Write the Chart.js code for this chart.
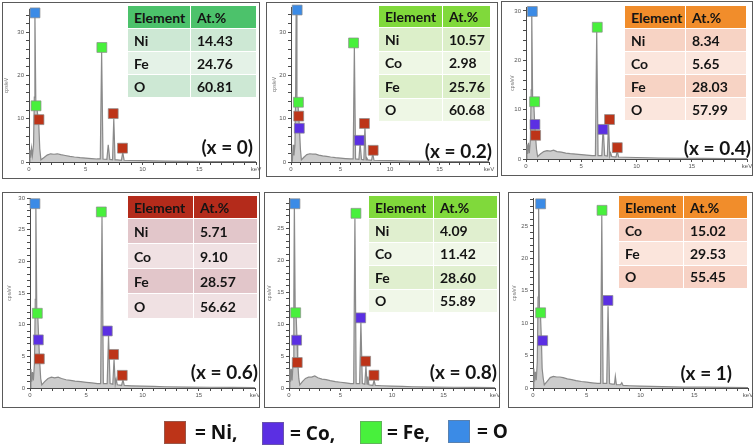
<!DOCTYPE html>
<html>
<head>
<meta charset="utf-8">
<script src="https://cdn.jsdelivr.net/npm/chart.js@4.4.1/dist/chart.umd.min.js"></script>
<style>
      body { margin: 0; width: 756px; height: 448px; background: #fff; position: relative; overflow: hidden; font-family: Lato, "Open Sans", sans-serif; }
      .panel { position: absolute; border: 1px solid #5a5a5a; box-sizing: border-box; }
      canvas { position: absolute; }
      table.at { position: absolute; border-collapse: collapse; table-layout: fixed; font-weight: bold; font-size: 14px; color: #141414; }
      table.at td { box-sizing: border-box; border: 1px solid #fff; padding: 0 0 0 6px; white-space: nowrap; overflow: hidden; }
      .xlab { position: absolute; font-weight: bold; font-size: 19px; line-height: 20px; color: #141414; white-space: nowrap; }
      .key { position: absolute; width: 22px; height: 23px; box-sizing: border-box; border: 1px solid rgba(120,120,120,0.5); }
      .keytxt { position: absolute; font: bold 19px "Open Sans"; line-height: 24px; color: #111; white-space: nowrap; }
</style>
</head>
<body>
<script>
/* общая сетка энергий (keV) для всех спектров */
const keV = [0, 0.08, 0.15, 0.22, 0.30, 0.40, 0.47, 0.52, 0.60, 0.70, 0.78, 0.85, 0.95, 1.05, 1.3,
      1.6, 1.9, 2.2, 2.5, 2.8, 3.2, 3.6, 4.0, 4.5, 5.0, 5.5, 6.0, 6.28, 6.40, 6.52, 6.86, 6.98, 7.12,
      7.36, 7.47, 7.58, 7.66, 7.76, 8.14, 8.26, 8.38, 9, 10, 11, 12, 14, 16, 18, 20];

/* интенсивность, cps/eV, для каждого состава */
const cpsX0 = [0, 2.8, 1.0, 3.2, 1.5, 4, 15, 35, 14, 12.5, 10.5, 9.5, 3, 0.5, 1.0, 1.6, 1.9, 1.8, 1.9, 1.7,
      1.5, 1.3, 1.15, 1.0, 0.9, 0.8, 0.7, 0.7, 25.5, 0.7, 0.6, 4.0, 0.6, 0.5, 10.0, 0.5, 0.5, 0.5, 0.4, 2.3,
      0.4, 0.35, 0.3, 0.25, 0.2, 0.15, 0.12, 0.1, 0.08];
const cpsX02 = [0, 1.5, 0.8, 4.0, 1.5, 4, 16, 35.8, 15, 13.5, 10.5, 8, 3, 0.5, 1.1, 1.7, 1.9, 1.8, 1.8, 1.6,
      1.4, 1.3, 1.15, 1.0, 0.9, 0.8, 0.7, 0.7, 26.8, 0.7, 0.6, 4.3, 0.6, 0.5, 8.0, 0.5, 0.9, 0.5, 0.4, 2.0,
      0.4, 0.35, 0.3, 0.25, 0.2, 0.15, 0.12, 0.1, 0.08];
const cpsX04 = [0, 3.0, 1.0, 3.3, 1.2, 4, 14, 30.5, 12, 11.5, 7.5, 5, 2, 0.5, 1.0, 1.5, 1.7, 1.6, 1.8, 1.5,
      1.4, 1.2, 1.1, 1.0, 0.9, 0.8, 0.7, 0.7, 26.0, 0.7, 0.7, 6.5, 0.7, 0.6, 7.3, 0.6, 1.2, 0.5, 0.4, 1.6,
      0.4, 0.35, 0.3, 0.25, 0.2, 0.15, 0.12, 0.1, 0.08];
const cpsX06 = [0, 3.0, 1.0, 2.5, 1.2, 4, 14, 29.5, 12.5, 11, 7.5, 4.5, 1.5, 0.5, 1.0, 1.5, 1.7, 1.6, 1.7, 1.5,
      1.3, 1.2, 1.1, 1.0, 0.9, 0.8, 0.7, 0.7, 27.0, 0.7, 0.7, 8.3, 0.7, 0.6, 4.5, 0.6, 1.4, 0.5, 0.4, 1.3,
      0.4, 0.35, 0.3, 0.25, 0.2, 0.15, 0.12, 0.1, 0.08];
const cpsX08 = [0, 3.0, 1.0, 3.0, 1.2, 4, 14, 29.3, 12.5, 11, 7.5, 4, 1.5, 0.5, 1.0, 1.5, 1.7, 1.7, 1.9, 1.6,
      1.4, 1.3, 1.15, 1.0, 0.9, 0.8, 0.7, 0.7, 26.6, 0.7, 0.7, 10.3, 0.7, 0.6, 3.5, 0.6, 1.8, 0.5, 0.4, 1.2,
      0.4, 0.35, 0.3, 0.25, 0.2, 0.15, 0.12, 0.1, 0.08];
const cpsX1 = [0, 3.0, 1.0, 2.5, 1.2, 4, 14, 28.8, 12, 11, 7.5, 3, 1.5, 0.5, 1.0, 1.6, 1.8, 1.7, 1.7, 1.6,
      1.4, 1.3, 1.15, 1.0, 0.9, 0.8, 0.7, 0.7, 26.6, 0.7, 0.7, 12.6, 0.7, 0.6, 0.6, 0.6, 1.8, 0.5, 0.5, 0.8,
      0.4, 0.35, 0.3, 0.25, 0.2, 0.15, 0.12, 0.1, 0.08];
const spectra = [cpsX0, cpsX02, cpsX04, cpsX06, cpsX08, cpsX1];

/* метки пиков [keV, cps/eV] по панелям */
const markNi = [[[0.88, 9.8], [7.42, 11.2], [8.24, 3.2]], [[0.78, 10.6], [7.42, 8.9], [8.3, 2.7]],
      [[0.87, 4.8], [7.56, 8.0], [8.26, 2.3]], [[0.83, 4.6], [7.43, 5.3], [8.2, 2.0]],
      [[0.8, 4.0], [7.44, 4.2], [8.25, 2.0]], []];
const markCo = [[], [[0.84, 7.8], [6.9, 5.0]], [[0.81, 7.0], [6.96, 6.0]], [[0.74, 7.6], [6.87, 9.0]],
      [[0.74, 7.5], [6.96, 11.0]], [[0.9, 7.3], [6.97, 13.5]]];
const markFe = [[[0.62, 13.0], [6.42, 26.5]], [[0.75, 13.8], [6.32, 27.5]], [[0.78, 11.6], [6.45, 26.7]],
      [[0.65, 11.8], [6.34, 27.8]], [[0.65, 11.8], [6.5, 27.4]], [[0.71, 11.6], [6.42, 27.4]]];
const markO = [[[0.53, 34.5]], [[0.62, 35.1]], [[0.57, 29.9]], [[0.44, 29.1]], [[0.58, 28.9]], [[0.71, 28.4]]];

/* таблицы состава */
const tableEl = [['Ni', 'Fe', 'O'], ['Ni', 'Co', 'Fe', 'O'], ['Ni', 'Co', 'Fe', 'O'],
      ['Ni', 'Co', 'Fe', 'O'], ['Ni', 'Co', 'Fe', 'O'], ['Co', 'Fe', 'O']];
const atPct = [['14.43', '24.76', '60.81'], ['10.57', '2.98', '25.76', '60.68'], ['8.34', '5.65', '28.03', '57.99'],
      ['5.71', '9.10', '28.57', '56.62'], ['4.09', '11.42', '28.60', '55.89'], ['15.02', '29.53', '55.45']];
const xLabels = ['(x = 0)', '(x = 0.2)', '(x = 0.4)', '(x = 0.6)', '(x = 0.8)', '(x = 1)'];

/* шкалы */
const yMax = [35.4, 35.8, 30.8, 30, 29.8, 29.3];
const yStep = [2, 2, 2, 1, 1, 1];
const yLabelStep = [10, 10, 10, 5, 5, 5];
const xTickLabels = { 0: '0', 5: '5', 10: '10', 15: '15', 20: 'keV' };

/* геометрия панелей (px) */
const boxes = [
      { f: [2, 2, 258, 177], x0: 29, x1: 256, y0: 7, y1: 162, yw: 25, t: [127, 5, 130, 63, 23, 23], lr: 253, lc: 147 },
      { f: [266, 2, 232, 175], x0: 291, x1: 489, y0: 5, y1: 162, yw: 19, t: [378, 5, 113, 64, 22, 23.5], lr: 492, lc: 151 },
      { f: [501, 1, 252, 175], x0: 526, x1: 747, y0: 5, y1: 159, yw: 16, t: [624, 5, 123, 61, 23, 23], lr: 751, lc: 148 },
      { f: [2, 192, 258, 216], x0: 30, x1: 255, y0: 196, y1: 388, yw: 23, t: [127, 195, 131, 66, 23, 25], lr: 258, lc: 372 },
      { f: [264, 192, 236, 216], x0: 289, x1: 495, y0: 196, y1: 388, yw: 22, t: [368, 195, 130, 65, 23, 23.5], lr: 497, lc: 372 },
      { f: [508, 192, 245, 216], x0: 533, x1: 748, y0: 196, y1: 388, yw: 21, t: [618, 195, 130, 65, 23, 23.3], lr: 732, lc: 373 }
];
const headColors = ['#4cc26b', '#80d93b', '#f18d2b', '#b42b1b', '#80d93b', '#f18d2b'];
const rowColors = [['#cde8d4', '#e4f2e7'], ['#dcefc9', '#eef7e5'], ['#f7d3c4', '#fbe6dd'],
      ['#e2c6ca', '#f0e1e3'], ['#e0efcf', '#f0f7e8'], ['#f7d2c5', '#fbe5dc']];
const elColors = { Ni: '#bd3418', Co: '#5b2fe3', Fe: '#48f03c', O: '#3b8be6' };

function el(tag, cls, css) {
      const n = document.createElement(tag);
      if (cls) n.className = cls;
      Object.assign(n.style, css || {});
      document.body.appendChild(n);
      return n;
}

function markSet(list, color) {
      return {
            data: list.map(p => ({ x: p[0], y: p[1] })),
            pointStyle: 'rect', pointRadius: 7,
            backgroundColor: color, borderColor: 'rgba(140,140,140,0.7)', borderWidth: 1,
            clip: false, order: 0
      };
}

function makePanel(i) {
      const b = boxes[i];
      el('div', 'panel', { left: b.f[0] + 'px', top: b.f[1] + 'px', width: b.f[2] + 'px', height: b.f[3] + 'px' });

      const padT = 6, padR = 10, xh = 18;
      const cv = el('canvas', null, { left: (b.x0 - b.yw) + 'px', top: (b.y0 - padT) + 'px' });
      cv.width = b.x1 - b.x0 + b.yw + padR;
      cv.height = b.y1 - b.y0 + padT + xh;
      cv.style.width = cv.width + 'px';
      cv.style.height = cv.height + 'px';

      const axisLine = { display: true, color: '#4a4a4a', width: 1 };
      const tickGrid = { display: true, drawOnChartArea: false, drawTicks: true, tickLength: 3, color: '#4a4a4a', lineWidth: 1 };
      const tickFont = { size: 6, family: 'Liberation Sans' };

      new Chart(cv, {
            type: 'scatter',
            data: {
                  datasets: [
                        markSet(markO[i], elColors.O),
                        markSet(markFe[i], elColors.Fe),
                        markSet(markCo[i], elColors.Co),
                        markSet(markNi[i], elColors.Ni),
                        {
                              data: keV.map((e, k) => ({ x: e, y: spectra[i][k] })),
                              showLine: true, fill: 'origin', tension: 0,
                              borderColor: '#8a8a8a', backgroundColor: '#cccccc', borderWidth: 1.2,
                              pointRadius: 0, order: 10
                        }
                  ]
            },
            options: {
                  responsive: false,
                  animation: false,
                  events: [],
                  layout: { padding: { top: padT, right: padR, left: 0, bottom: 0 } },
                  plugins: { legend: { display: false }, tooltip: { enabled: false } },
                  scales: {
                        x: {
                              type: 'linear', min: 0, max: 20,
                              afterFit: s => { s.height = xh; },
                              border: axisLine, grid: tickGrid,
                              ticks: {
                                    stepSize: 1, autoSkip: false, maxRotation: 0, padding: 1,
                                    font: tickFont, color: '#555',
                                    callback: v => (v in xTickLabels ? xTickLabels[v] : '')
                              }
                        },
                        y: {
                              type: 'linear', min: 0, max: yMax[i],
                              afterFit: s => { s.width = b.yw; },
                              border: axisLine, grid: tickGrid,
                              ticks: {
                                    stepSize: yStep[i], includeBounds: false, autoSkip: false, padding: 2,
                                    font: tickFont, color: '#555',
                                    callback: v => (v % yLabelStep[i] === 0 ? String(v) : '')
                              },
                              title: { display: true, text: 'cps/eV', font: { size: 5, family: 'Liberation Sans' }, color: '#777', padding: 0 }
                        }
                  }
            }
      });

      // таблица Element / At.%
      const [tl, tt, tw, c1, hh, rh] = b.t;
      const tb = el('table', 'at', { left: tl + 'px', top: tt + 'px', width: tw + 'px' });
      const head = tb.insertRow();
      head.style.height = hh + 'px';
      head.style.background = headColors[i];
      const h1 = head.insertCell(); h1.textContent = 'Element'; h1.style.width = c1 + 'px';
      const h2 = head.insertCell(); h2.textContent = 'At.%';
      tableEl[i].forEach((name, r) => {
            const row = tb.insertRow();
            row.style.height = rh + 'px';
            row.style.background = rowColors[i][r % 2];
            row.insertCell().textContent = name;
            row.insertCell().textContent = atPct[i][r];
      });

      const lab = el('div', 'xlab', { right: (756 - b.lr) + 'px', top: (b.lc - 10) + 'px' });
      lab.textContent = xLabels[i];
}

for (let i = 0; i < boxes.length; i++) makePanel(i);

/* легенда снизу */
const keyEls = ['Ni', 'Co', 'Fe', 'O'];
const keyText = ['= Ni,', '= Co,', '= Fe,', '= O'];
const keyPos = [[164, 421, 195], [262, 422, 290], [360, 421, 387], [448, 420, 477]];
keyEls.forEach((k, j) => {
      const [kx, ky, tx] = keyPos[j];
      el('div', 'key', { left: kx + 'px', top: ky + 'px', background: elColors[k] });
      const t = el('div', 'keytxt', { left: tx + 'px', top: (ky - 1) + 'px' });
      t.textContent = keyText[j];
});
</script>
</body>
</html>
